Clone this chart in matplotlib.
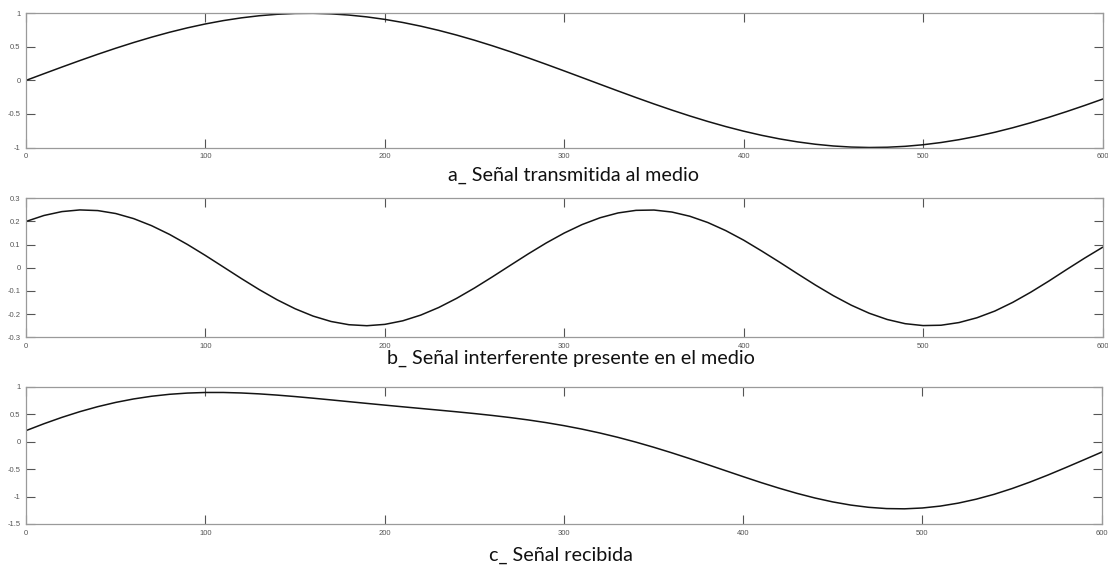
import matplotlib
matplotlib.use("Agg")
import matplotlib.pyplot as plt
from matplotlib.ticker import FuncFormatter

# Sample positions (0..600, every 10 samples)
t = list(range(0, 601, 10))

# a_ transmitted signal
transmitida = [
    0.0000, 0.0998, 0.1987, 0.2955, 0.3894, 0.4794, 0.5646, 0.6442, 0.7174, 0.7833,
    0.8415, 0.8912, 0.9320, 0.9636, 0.9854, 0.9975, 0.9996, 0.9917, 0.9738, 0.9463,
    0.9093, 0.8632, 0.8085, 0.7457, 0.6755, 0.5985, 0.5155, 0.4274, 0.3350, 0.2392,
    0.1411, 0.0416, -0.0584, -0.1577, -0.2555, -0.3508, -0.4425, -0.5298, -0.6119, -0.6878,
    -0.7568, -0.8183, -0.8716, -0.9162, -0.9516, -0.9775, -0.9937, -0.9999, -0.9962, -0.9825,
    -0.9589, -0.9258, -0.8835, -0.8323, -0.7728, -0.7055, -0.6313, -0.5507, -0.4646, -0.3739,
    -0.2794,
]

# b_ interfering signal
interferente = [
    0.2000, 0.2258, 0.2426, 0.2498, 0.2470, 0.2343, 0.2123, 0.1818, 0.1441, 0.1006,
    0.0532, 0.0036, -0.0462, -0.0941, -0.1382, -0.1768, -0.2084, -0.2317, -0.2457, -0.2500,
    -0.2442, -0.2288, -0.2042, -0.1715, -0.1319, -0.0871, -0.0388, 0.0110, 0.0604, 0.1074,
    0.1501, 0.1868, 0.2161, 0.2368, 0.2480, 0.2493, 0.2407, 0.2225, 0.1955, 0.1606,
    0.1193, 0.0727, 0.0243, -0.0256, -0.0745, -0.1204, -0.1615, -0.1962, -0.2231, -0.2412,
    -0.2494, -0.2479, -0.2364, -0.2157, -0.1867, -0.1491, -0.1054, -0.0577, -0.0075, 0.0416,
    0.0883,
]

# c_ received signal
recibida = [
    0.2000, 0.3256, 0.4413, 0.5453, 0.6364, 0.7137, 0.7769, 0.8260, 0.8615, 0.8839,
    0.8947, 0.8948, 0.8858, 0.8695, 0.8472, 0.8207, 0.7912, 0.7600, 0.7281, 0.6963,
    0.6651, 0.6344, 0.6043, 0.5742, 0.5436, 0.5114, 0.4767, 0.4384, 0.3954, 0.3466,
    0.2912, 0.2284, 0.1577, 0.0791, -0.0075, -0.1015, -0.2018, -0.3073, -0.4164, -0.5272,
    -0.6375, -0.7456, -0.8473, -0.9418, -1.0261, -1.0979, -1.1552, -1.1961, -1.2193, -1.2237,
    -1.2083, -1.1737, -1.1199, -1.0480, -0.9595, -0.8546, -0.7367, -0.6084, -0.4721, -0.3323,
    -0.1911,
]

x_ticks = [0, 100, 200, 300, 400, 500, 600]
y_ticks_a = [-1, -0.5, 0, 0.5, 1]
y_ticks_b = [-0.3, -0.2, -0.1, 0, 0.1, 0.2, 0.3]
y_ticks_c = [-1.5, -1, -0.5, 0, 0.5, 1]

captions = [
    "a_ Señal transmitida al medio",
    "b_ Señal interferente presente en el medio",
    "c_ Señal recibida",
]

W, H = 1108, 565
fig = plt.figure(figsize=(W / 100, H / 100), dpi=100)


def px_axes(left, top, right, bottom):
    return fig.add_axes([left / W, 1 - bottom / H, (right - left) / W, (bottom - top) / H])


fmt = FuncFormatter(lambda v, p: f"{v:g}")


def style(ax, yticks):
    ax.set_xlim(0, 600)
    ax.set_ylim(yticks[0], yticks[-1])
    ax.set_xticks(x_ticks)
    ax.set_yticks(yticks)
    ax.xaxis.set_major_formatter(fmt)
    ax.yaxis.set_major_formatter(fmt)
    for s in ax.spines.values():
        s.set_color("#9a9a9a")
        s.set_linewidth(0.9)
    ax.tick_params(axis="both", which="major", direction="in", length=6.5, width=0.8,
                   color="#555555", labelsize=5.5, labelcolor="#555555", pad=4,
                   top=True, right=True)
    for lbl in ax.get_xticklabels() + ax.get_yticklabels():
        lbl.set_family("Liberation Sans")


ax_a = px_axes(26, 13.3, 1102.5, 147.5)
ax_b = px_axes(26, 198.3, 1102.5, 337.3)
ax_c = px_axes(26, 386.7, 1101.7, 524)

for ax, y, yt in [(ax_a, transmitida, y_ticks_a),
                  (ax_b, interferente, y_ticks_b),
                  (ax_c, recibida, y_ticks_c)]:
    ax.plot(t, y, color="#141414", linewidth=1.1)
    style(ax, yt)

caption_pos = [(573, 181), (571, 364), (561, 561)]
for text, (cx, by) in zip(captions, caption_pos):
    fig.text(cx / W, 1 - by / H, text, ha="center", va="baseline",
             fontsize=14.2, family="Lato", color="#111111")

fig.savefig("out.png", dpi=100)
